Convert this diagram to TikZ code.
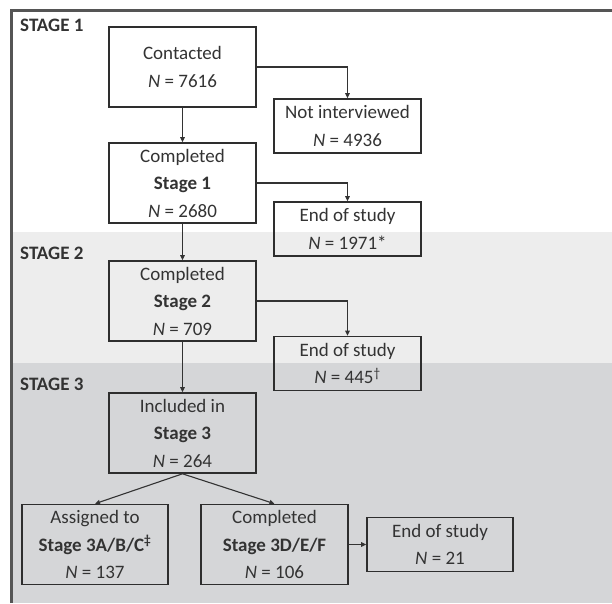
\documentclass[tikz,border=0pt]{standalone}
\usepackage{fontspec}
\setmainfont{Carlito}
\usetikzlibrary{arrows.meta}
\definecolor{inkgray}{HTML}{333333}
\definecolor{boxline}{HTML}{2E2E2E}
\definecolor{framegray}{HTML}{555555}
\definecolor{bandtwo}{HTML}{EDEDED}
\definecolor{bandthree}{HTML}{D5D6D8}

\begin{document}
\begin{tikzpicture}
            [every node/.style={inner sep=0pt, text=inkgray, font=\fontsize{19}{27.5}\selectfont},
             box/.style={rectangle, draw=boxline, line width=1.6pt, minimum width=147pt, align=center},
             highbox/.style={box, minimum height=80pt},
             lowbox/.style={box, minimum height=54pt},
             link/.style={line width=1.1pt, color=inkgray, -{Triangle[length=5pt, width=4.5pt]}},
             stagelabel/.style={anchor=west, font=\fontsize{19}{22}\selectfont\bfseries}]
                \useasboundingbox (0pt, 0pt) rectangle (612pt, -603pt);
                % stage bands and frame
                \fill [white] (11pt, -10pt) rectangle (612pt, -232pt);
                \fill [bandtwo] (11pt, -232pt) rectangle (612pt, -363pt);
                \fill [bandthree] (11pt, -363pt) rectangle (612pt, -603pt);
                \draw [line width=3pt, color=framegray] (11pt, -603pt) -- (11pt, -10pt) -- (612pt, -10pt);
                \node (s1) [stagelabel] at (20pt, -25pt) {STAGE 1};
                \node (s2) [stagelabel] at (20pt, -253pt) {STAGE 2};
                \node (s3) [stagelabel] at (20pt, -384.5pt) {STAGE 3};
                % boxes
                \node (1) [highbox] at (182.5pt, -67pt) {Contacted\\\textit{N} = 7616};
                \node (2) [lowbox] at (347.5pt, -126pt) {Not interviewed\\\textit{N} = 4936};
                \node (3) [highbox] at (182.5pt, -183pt) {Completed\\\textbf{Stage 1}\\\textit{N} = 2680};
                \node (4) [lowbox] at (347.5pt, -229pt) {End of study\\\textit{N} = 1971*};
                \node (5) [highbox] at (182.5pt, -301pt) {Completed\\\textbf{Stage 2}\\\textit{N} = 709};
                \node (6) [lowbox] at (347.5pt, -363.5pt) {End of study\\\textit{N} = 445\textsuperscript{†}};
                \node (7) [highbox] at (182.5pt, -433pt) {Included in\\\textbf{Stage 3}\\\textit{N} = 264};
                \node (8) [highbox, minimum width=146pt] at (95pt, -544.5pt) {Assigned to\\\textbf{Stage 3A/B/C\textsuperscript{‡}}\\\textit{N} = 137};
                \node (9) [highbox] at (274.5pt, -544.5pt) {Completed\\\textbf{Stage 3D/E/F}\\\textit{N} = 106};
                \node (10) [lowbox, minimum width=146pt] at (440pt, -544.5pt) {End of study\\\textit{N} = 21};
                % connectors
                \draw [link] (1.east) -| (2.north);
                \draw [link] (1) to (3);
                \draw [link] (3.east) -| (4.north);
                \draw [link] (3) to (5);
                \draw [link] (5.east) -| (6.north);
                \draw [link] (5) to (7);
                \draw [link] (7.south) to (8.north);
                \draw [link] (7.south) to (9.north);
                \draw [link] (9) to (10);
            \end{tikzpicture}
\end{document}
